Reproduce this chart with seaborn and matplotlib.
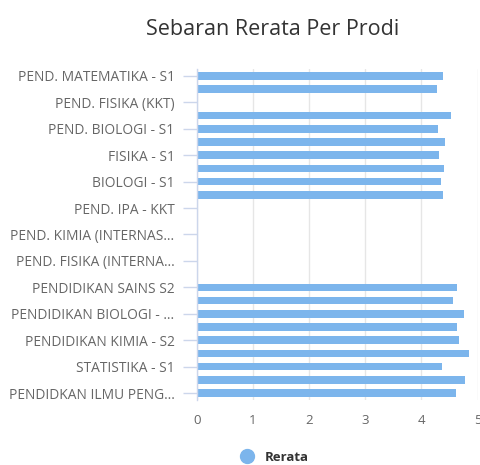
import matplotlib as mpl
mpl.use('Agg')
import matplotlib.pyplot as plt
from matplotlib.lines import Line2D
import seaborn as sns
import pandas as pd
import numpy as np

# Data (odd-position names are not shown in the picture)
prodi = [
    'PEND. MATEMATIKA - S1', 'PEND. FISIKA - S1', 'PEND. FISIKA (KKT)', 'PEND. KIMIA - S1',
    'PEND. BIOLOGI - S1', 'MATEMATIKA - S1', 'FISIKA - S1', 'KIMIA - S1',
    'BIOLOGI - S1', 'PEND. IPA - S1', 'PEND. IPA - KKT', 'PEND. MATEMATIKA (INTERNAS…',
    'PEND. KIMIA (INTERNAS…', 'PEND. BIOLOGI (INTERNAS…', 'PEND. FISIKA (INTERNA…', 'PEND. IPA (INTERNAS…',
    'PENDIDIKAN SAINS S2', 'PENDIDIKAN MATEMATIKA - S2', 'PENDIDIKAN BIOLOGI - …', 'PENDIDIKAN FISIKA - S2',
    'PENDIDIKAN KIMIA - S2', 'PENDIDIKAN MATEMATIKA - S3', 'STATISTIKA - S1', 'PENDIDIKAN IPA - S3',
    'PENDIDKAN ILMU PENG…',
]
rerata = [
    4.38, 4.27, 0, 4.53,
    4.29, 4.42, 4.32, 4.40,
    4.35, 4.38, 0, 0,
    0, 0, 0, 0,
    4.64, 4.57, 4.75, 4.64,
    4.66, 4.84, 4.36, 4.77,
    4.62,
]
x_ticks = [0, 1, 2, 3, 4, 5]

df = pd.DataFrame({'Prodi': prodi, 'Rerata': rerata})

sns.set_theme(style='white')
plt.rcParams['font.family'] = ['Open Sans', 'DejaVu Sans']

fig = plt.figure(figsize=(4.8, 4.65), dpi=100)
ax = fig.add_axes([0.410, 0.1406, 0.585, 0.7102])

sns.barplot(data=df, y='Prodi', x='Rerata', order=prodi, orient='h',
            color='#7cb5ec', saturation=1, width=0.58, linewidth=0, ax=ax)

ax.set_xlim(0, 5)
ax.set_xticks(x_ticks)
ax.set_xticklabels([str(t) for t in x_ticks], color='#666666', fontsize=9.5)
ax.xaxis.grid(True, color='#e6e6e6', linewidth=1)
ax.set_axisbelow(True)

idx = np.arange(0, len(prodi), 2)
ax.set_yticks(idx)
ax.set_yticklabels([prodi[i] for i in idx], color='#666666', fontsize=9.9)
ax.set_ylim(len(prodi) - 0.5, -0.5)
ax.tick_params(axis='y', length=10, color='#ccd6eb', width=1, pad=6, left=True)
ax.tick_params(axis='x', length=0, pad=10)

for s in ['top', 'right', 'bottom']:
    ax.spines[s].set_visible(False)
ax.spines['left'].set_color('#ccd6eb')
ax.spines['left'].set_linewidth(1)
ax.set_xlabel('')
ax.set_ylabel('')

fig.text(0.567, 0.936, 'Sebaran Rerata Per Prodi', ha='center', va='center',
         fontsize=15.5, color='#333333')

handle = Line2D([], [], marker='o', linestyle='', markersize=10,
                markerfacecolor='#7cb5ec', markeredgecolor='#7cb5ec')
leg = fig.legend([handle], ['Rerata'], loc='center', bbox_to_anchor=(0.565, 0.017),
                 frameon=False, handletextpad=0.3, prop={'weight': 'bold', 'size': 9.5})
for t in leg.get_texts():
    t.set_color('#333333')

fig.savefig('out.png', dpi=100)
